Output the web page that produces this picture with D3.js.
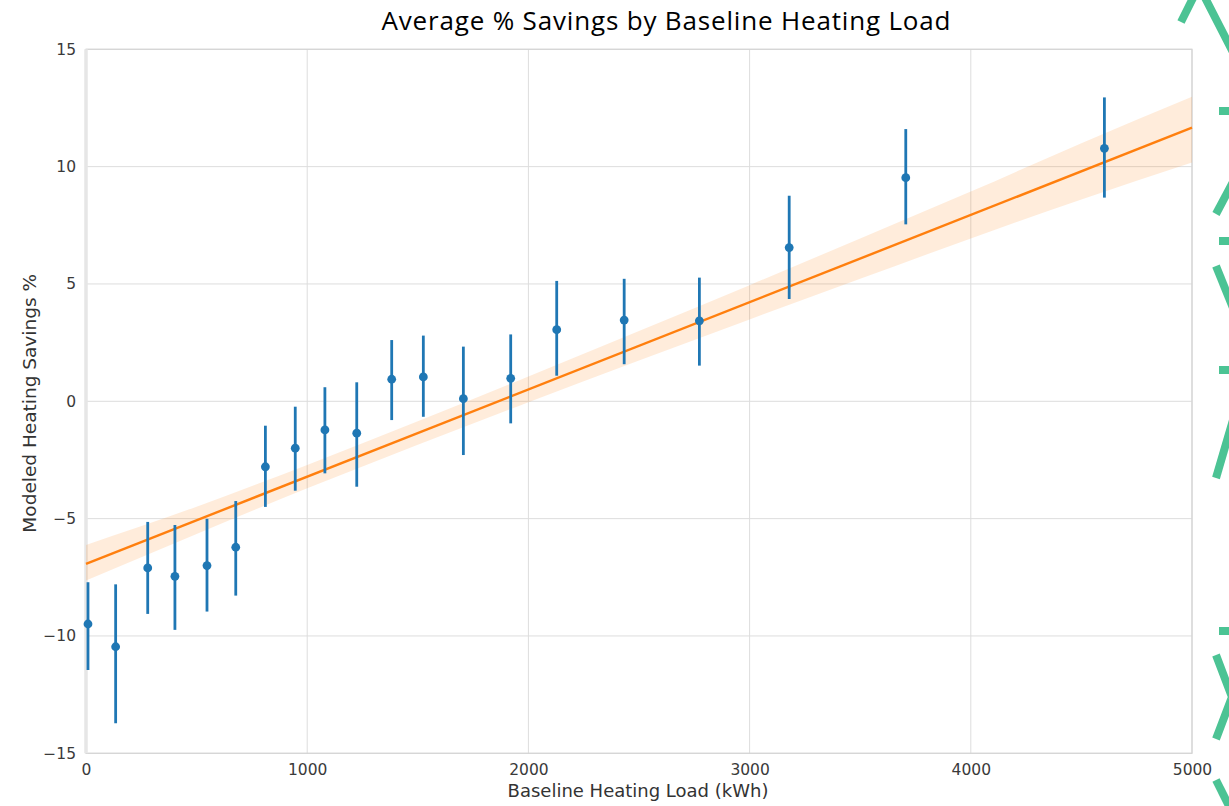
<!DOCTYPE html>
<html>
<head>
<meta charset="utf-8">
<script src="https://cdn.jsdelivr.net/npm/d3@7"></script>
<style>
  html, body { margin: 0; padding: 0; background: #ffffff; }
  svg { display: block; }
</style>
</head>
<body>
<svg id="chart" width="1229" height="806"></svg>
<script>
// Binned baseline heating load (kWh) and mean modeled savings with 95% intervals
const loads = [9, 134, 279, 402, 547, 677, 811, 946, 1080, 1224, 1382, 1525, 1706, 1920, 2128, 2433, 2773, 3179, 3706, 4604];
const means = [-9.49, -10.46, -7.10, -7.46, -7.00, -6.22, -2.79, -2.00, -1.22, -1.36, 0.94, 1.04, 0.11, 0.98, 3.05, 3.46, 3.43, 6.55, 9.53, 10.78];
const lows  = [-11.45, -13.72, -9.06, -9.74, -8.96, -8.28, -4.50, -3.81, -3.07, -3.64, -0.80, -0.66, -2.29, -0.94, 1.09, 1.58, 1.52, 4.36, 7.54, 8.68];
const highs = [-7.71, -7.80, -5.14, -5.27, -5.01, -4.25, -1.04, -0.23, 0.60, 0.81, 2.61, 2.80, 2.33, 2.85, 5.13, 5.22, 5.27, 8.76, 11.60, 12.95];

// Linear fit and its confidence band
const fitX = [0, 5000];
const fitY = [-6.93, 11.66];
const bandX  = [0, 500, 1000, 1500, 2000, 2500, 3000, 3500, 4000, 4500, 5000];
const bandLo = [-7.64, -5.65, -3.71, -1.85, -0.04, 1.74, 3.49, 5.22, 6.94, 8.60, 10.18];
const bandHi = [-6.12, -4.49, -2.71, -0.85, 1.06, 3.00, 4.95, 6.94, 8.94, 11.00, 12.98];

// Axis ticks
const xTicks = [0, 1000, 2000, 3000, 4000, 5000];
const yTicks = [-15, -10, -5, 0, 5, 10, 15];

const svg = d3.select("#chart");
const plotLeft = 86, plotRight = 1192, plotTop = 49.3, plotBottom = 753.3;

const x = d3.scaleLinear().domain([0, 5000]).range([plotLeft, plotRight]);
const y = d3.scaleLinear().domain([-15, 15]).range([plotBottom, plotTop]);

const gridColor = "#dddddd";
const tickFont = "'DejaVu Sans', sans-serif";

// Grid
const grid = svg.append("g");
grid.selectAll("line.gx").data(xTicks).join("line")
  .attr("x1", d => x(d)).attr("x2", d => x(d))
  .attr("y1", plotTop).attr("y2", plotBottom)
  .attr("stroke", gridColor).attr("stroke-width", 1);
grid.selectAll("line.gy").data(yTicks).join("line")
  .attr("x1", plotLeft).attr("x2", plotRight)
  .attr("y1", d => y(d)).attr("y2", d => y(d))
  .attr("stroke", gridColor).attr("stroke-width", 1);

// Frame
svg.append("rect")
  .attr("x", plotLeft).attr("y", plotTop)
  .attr("width", plotRight - plotLeft).attr("height", plotBottom - plotTop)
  .attr("fill", "none").attr("stroke", "#d4d4d4").attr("stroke-width", 1.2);
svg.append("line")
  .attr("x1", plotLeft).attr("x2", plotLeft).attr("y1", plotTop).attr("y2", plotBottom)
  .attr("stroke", "#e6e6e6").attr("stroke-width", 3.5);

// Axes (labels only)
const xAxis = d3.axisBottom(x).tickValues(xTicks).tickSize(0).tickPadding(11).tickFormat(d3.format("d"));
const yAxis = d3.axisLeft(y).tickValues(yTicks).tickSize(0).tickPadding(10).tickFormat(d3.format("d"));

const gx = svg.append("g").attr("transform", `translate(0,${plotBottom})`).call(xAxis);
const gy = svg.append("g").attr("transform", `translate(${plotLeft},0)`).call(yAxis);
[gx, gy].forEach(g => {
  g.select(".domain").remove();
  g.selectAll("text").attr("font-family", tickFont).attr("font-size", 15.5).attr("fill", "#3a3a3a");
});

// Confidence band
const bandData = bandX.map((v, i) => ({ x: v, lo: bandLo[i], hi: bandHi[i] }));
svg.append("path")
  .datum(bandData)
  .attr("d", d3.area().x(d => x(d.x)).y0(d => y(d.lo)).y1(d => y(d.hi)).curve(d3.curveMonotoneX))
  .attr("fill", "#ff7f0e").attr("fill-opacity", 0.15);

// Fit line
svg.append("path")
  .datum(fitX.map((v, i) => [v, fitY[i]]))
  .attr("d", d3.line().x(d => x(d[0])).y(d => y(d[1])))
  .attr("stroke", "#ff7f0e").attr("stroke-width", 2.4).attr("fill", "none");

// Error bars and means
const pts = loads.map((v, i) => ({ x: v, m: means[i], lo: lows[i], hi: highs[i] }));
svg.append("g").selectAll("line").data(pts).join("line")
  .attr("x1", d => x(d.x)).attr("x2", d => x(d.x))
  .attr("y1", d => y(d.lo)).attr("y2", d => y(d.hi))
  .attr("stroke", "#1f77b4").attr("stroke-width", 2.8);
svg.append("g").selectAll("circle").data(pts).join("circle")
  .attr("cx", d => x(d.x)).attr("cy", d => y(d.m))
  .attr("r", 4.4).attr("fill", "#1f77b4");

// Titles
svg.append("text")
  .attr("x", 666).attr("y", 30)
  .attr("text-anchor", "middle")
  .attr("font-family", "'Open Sans', sans-serif").attr("font-size", 26)
  .attr("textLength", 569).attr("lengthAdjust", "spacing")
  .attr("fill", "#000")
  .text("Average % Savings by Baseline Heating Load");

svg.append("text")
  .attr("x", 638).attr("y", 797)
  .attr("text-anchor", "middle")
  .attr("font-family", tickFont).attr("font-size", 18).attr("fill", "#333")
  .text("Baseline Heating Load (kWh)");

svg.append("text")
  .attr("transform", `translate(36,${(plotTop + plotBottom) / 2 + 2}) rotate(-90)`)
  .attr("text-anchor", "middle")
  .attr("font-family", tickFont).attr("font-size", 18.5).attr("fill", "#333")
  .text("Modeled Heating Savings %");

// Decorative green chevron border on the right edge
const deco = svg.append("g")
  .attr("stroke", "#4cc394").attr("stroke-width", 8).attr("fill", "none")
  .attr("stroke-linecap", "butt");
const decoPaths = [
  "M1181,22 L1199,-14 L1236,58",
  "M1219,111 L1232,111",
  "M1216,214 L1233,182",
  "M1219,241 L1232,241",
  "M1216,266 L1233,308",
  "M1219,370 L1232,370",
  "M1216,478 L1233,420",
  "M1219,631 L1232,631",
  "M1216,655 L1232,697 L1216,739",
  "M1216,780 L1232,812"
];
decoPaths.forEach(p => deco.append("path").attr("d", p));
</script>
</body>
</html>
